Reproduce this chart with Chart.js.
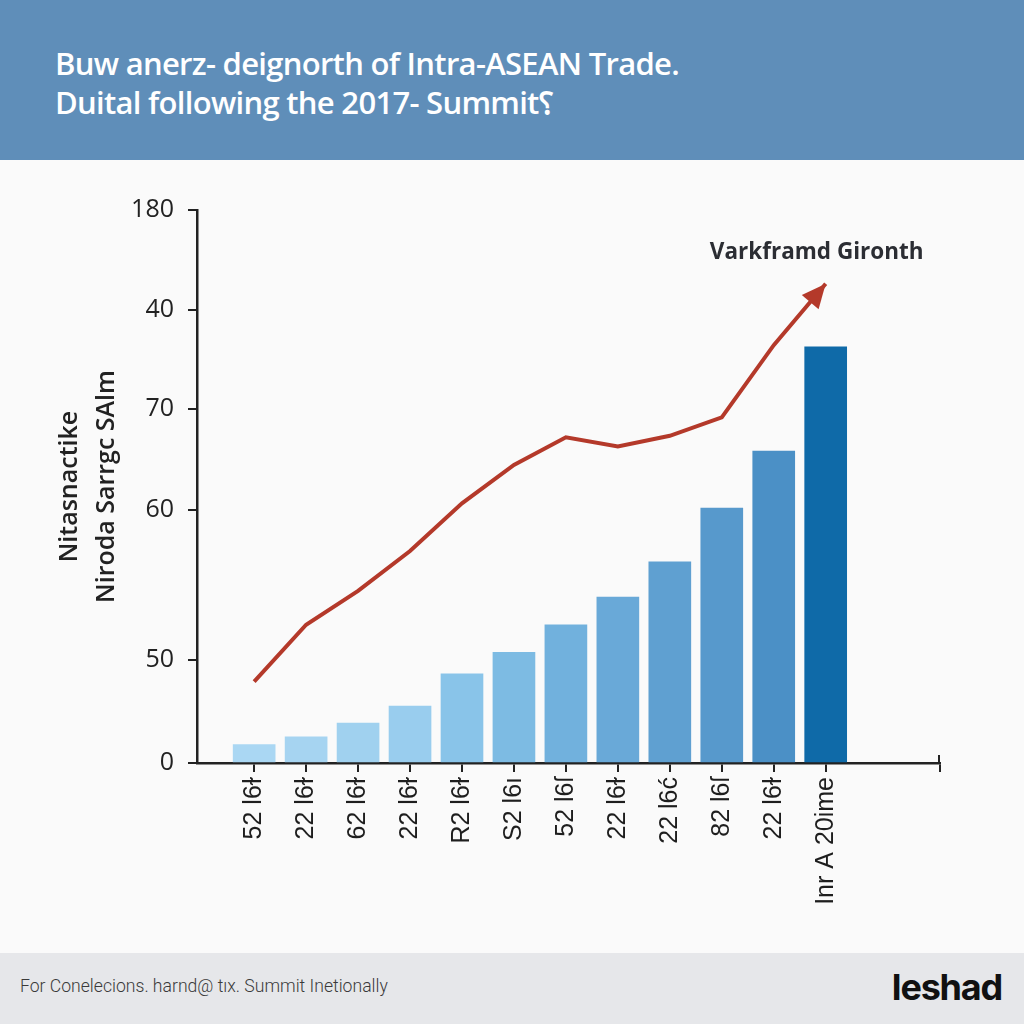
<!DOCTYPE html>
<html>
<head>
<meta charset="utf-8">
<script src="https://cdn.jsdelivr.net/npm/chart.js@4.4.1/dist/chart.umd.min.js"></script>
<style>
  html, body { margin: 0; padding: 0; width: 1024px; height: 1024px; overflow: hidden; background: #fafafa; }
  #c { position: absolute; left: 0; top: 0; z-index: 1; }
  #banner { position: absolute; left: 0; top: 0; width: 1024px; height: 160px; background: #5f8eb9; z-index: 2; }
  #banner .t { position: absolute; left: 55px; color: #ffffff; font-family: "Open Sans", sans-serif; font-weight: 600; font-size: 31px; letter-spacing: -0.7px; white-space: nowrap; }
  #footer { position: absolute; left: 0; top: 953px; width: 1024px; height: 71px; background: #e6e7ea; z-index: 2; }
  #footer .l { position: absolute; left: 20px; top: 23px; font-family: Roboto, sans-serif; font-weight: 300; font-size: 17.6px; color: #3a3a3a; white-space: nowrap; }
  #footer .r { position: absolute; right: 22px; top: 12px; font-family: Inter, Roboto, sans-serif; font-weight: 700; font-size: 36px; color: #111; letter-spacing: -1.2px; }
</style>
</head>
<body>
<div id="banner">
  <div class="t" style="top:42px;">Buw anerz- deignorth of Intra-ASEAN Trade.</div>
  <div class="t" style="top:81px;">Duital following the 2017- Summit&#x2E2E;</div>
</div>
<canvas id="c" width="1024" height="1024"></canvas>
<div id="footer">
  <div class="l">For Conelecions. harnd@ tıx. Summit Inetionally</div>
  <div class="r">leshad</div>
</div>
<script>
// ---- data ----
const categories = ["52 l6ɫ", "22 l6ɫ", "62 l6ɫ", "22 l6ɫ", "R2 l6ɫ", "S2 l6ı", "52 l6ſ", "22 l6ɫ", "22 l6ć", "82 l6ſ", "22 l6ɫ", "Inr A 20ime"];
const tradeValues = [6, 8.5, 13, 18.5, 29, 36, 45, 54, 65.5, 83, 101.5, 135.5];
const growthValues = [26.5, 45, 56, 69, 84.5, 97, 106, 103, 106.5, 112.5, 136, 156];
const yTickValues = [0, 33.5, 82.4, 115.2, 147.5, 180];
const yTickLabels = ["0", "50", "60", "70", "40", "180"];
const barColors = ["#aad7f3", "#a6d4f1", "#a0d1ef", "#99cdee", "#89c4e9", "#7dbbe3", "#71b1dd", "#69a9d8", "#5fa0d1", "#5799cc", "#4b90c6", "#0f6aa8"];
const annotationText = "Varkframd Gironth";
const yTitle = ["Nitasnactike", "Niroda Sarrgc SAlm"];

const AXIS = "#222222";
const LINE = "#b4392a";

const arrowPlugin = {
  id: "arrowAndNote",
  afterDatasetsDraw(chart) {
    const meta = chart.getDatasetMeta(1);
    const pts = meta.data;
    const a = pts[pts.length - 2], b = pts[pts.length - 1];
    const ang = Math.atan2(b.y - a.y, b.x - a.x);
    const ctx = chart.ctx;
    const L = 24, W = 11;
    ctx.save();
    ctx.fillStyle = LINE;
    ctx.beginPath();
    ctx.moveTo(b.x, b.y);
    ctx.lineTo(b.x - L * Math.cos(ang) + W * Math.sin(ang), b.y - L * Math.sin(ang) - W * Math.cos(ang));
    ctx.lineTo(b.x - L * Math.cos(ang) - W * Math.sin(ang), b.y - L * Math.sin(ang) + W * Math.cos(ang));
    ctx.closePath();
    ctx.fill();
    ctx.fillStyle = "#2b2d33";
    ctx.font = "700 22.5px 'Open Sans', sans-serif";
    ctx.textAlign = "center";
    ctx.textBaseline = "middle";
    ctx.fillText(annotationText, b.x - 9, b.y - 31);
    // right-end axis tick crossing the axis line
    const xs = chart.scales.x;
    ctx.strokeStyle = AXIS;
    ctx.lineWidth = 2;
    ctx.beginPath();
    ctx.moveTo(xs.right - 1, xs.top - 8);
    ctx.lineTo(xs.right - 1, xs.top);
    ctx.stroke();
    ctx.restore();
  }
};

new Chart(document.getElementById("c"), {
  data: {
    datasets: [
      {
        type: "bar",
        data: tradeValues.map((v, i) => ({ x: i, y: v })),
        backgroundColor: barColors,
        barThickness: 42,
        borderWidth: 0,
        order: 2
      },
      {
        type: "line",
        data: growthValues.map((v, i) => ({ x: i, y: v })),
        borderColor: LINE,
        borderWidth: 4,
        pointRadius: 0,
        tension: 0,
        fill: false,
        order: 1
      }
    ]
  },
  options: {
    responsive: false,
    animation: false,
    devicePixelRatio: 1,
    layout: { padding: { left: 0, right: 84, top: 210, bottom: 0 } },
    plugins: { legend: { display: false }, tooltip: { enabled: false } },
    scales: {
      x: {
        type: "linear",
        offset: false,
        min: -1.1,
        max: 13.2,
        afterBuildTicks(scale) {
          scale.ticks = categories.map((c, i) => ({ value: i })).concat([{ value: 13.2 }]);
        },
        afterFit(scale) { scale.height = 261; },
        grid: { display: true, offset: false, drawOnChartArea: false, drawTicks: true, tickLength: 9, color: AXIS, lineWidth: 2 },
        border: { display: true, color: AXIS, width: 2.5 },
        ticks: {
          autoSkip: false,
          minRotation: 90,
          maxRotation: 90,
          padding: 5,
          color: "#1e1e1e",
          font: { family: "'Liberation Sans', Arial, sans-serif", size: 25 },
          callback: (v) => (Number.isInteger(v) && v < categories.length) ? categories[v] : ""
        }
      },
      y: {
        type: "linear",
        min: 0,
        max: 180,
        afterBuildTicks(scale) {
          scale.ticks = yTickValues.map(v => ({ value: v }));
        },
        afterFit(scale) { scale.width = 197; },
        grid: { display: true, drawOnChartArea: false, drawTicks: true, tickLength: 9, color: AXIS, lineWidth: 2 },
        border: { display: true, color: AXIS, width: 2.5 },
        ticks: {
          padding: 14,
          color: "#222",
          font: { family: "'Open Sans', sans-serif", size: 25, weight: 400 },
          callback: (v, i) => yTickLabels[i]
        },
        title: {
          display: true,
          text: yTitle,
          color: "#222",
          font: { family: "'Open Sans', sans-serif", size: 25, weight: 600, lineHeight: 1.5 },
          padding: { top: 51, bottom: 0 }
        }
      }
    }
  },
  plugins: [arrowPlugin]
});
</script>
</body>
</html>
